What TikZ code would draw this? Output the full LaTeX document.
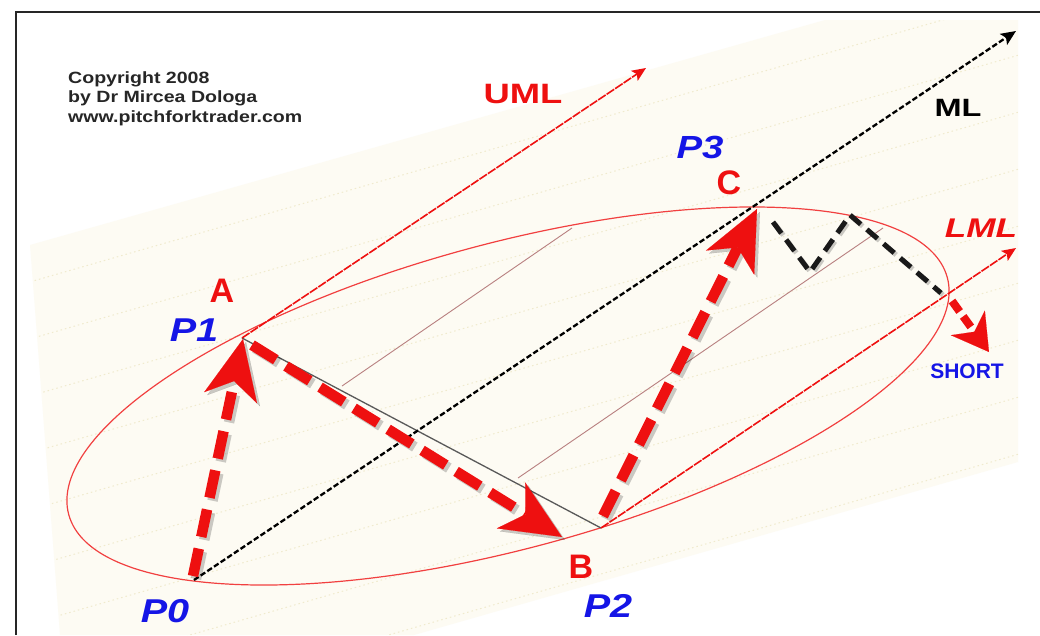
\documentclass[tikz,border=0pt]{standalone}
\usepackage{fontspec}
\setmainfont{Liberation Sans}
\newfontfamily\wideA[FakeStretch=1.3]{Liberation Sans}
\newfontfamily\wideB[FakeStretch=1.2]{Liberation Sans}
\usetikzlibrary{arrows.meta}
\definecolor{cream}{HTML}{FDFBF3}
\definecolor{stripe}{HTML}{F0EACD}
\definecolor{pfred}{HTML}{EE1010}
\definecolor{pfblue}{HTML}{1515E6}
\definecolor{qline}{HTML}{B88080}
\tikzset{
  lbl/.style={inner sep=0pt, anchor=center},
  redarrow/.style={pfred, line width=10.5, dash pattern=on 28 off 12,
    -{Stealth[length=60pt, width=54pt, inset=17pt, line width=0.1pt]}},
  redshadow/.style={black, opacity=.2, line width=10.5, dash pattern=on 28 off 12,
    -{Stealth[length=60pt, width=54pt, inset=17pt, line width=0.1pt]}},
  smallred/.style={pfred, line width=8, dash pattern=on 13 off 6,
    -{Stealth[length=36pt, width=42pt, inset=11pt, line width=0.1pt]}},
  route/.style={black!90, line width=5, dash pattern=on 14 off 8},
  fork/.style={pfred, line width=1.6, dash pattern=on 9 off 1.2,
    -{Stealth[length=14pt, width=12pt, inset=3pt]}},
  median/.style={black, line width=2.3, dash pattern=on 5.5 off 2.5,
    -{Stealth[length=15pt, width=13pt, inset=3pt]}},
}
\begin{document}
\begin{tikzpicture}[x=1pt, y=-1pt]
\useasboundingbox (0,0) rectangle (1040,635);
\fill[white] (0,0) rectangle (1040,635);
% background band
\fill[cream] (30,245) -- (825,20) -- (1018,20) -- (1018,462) -- (414,635) -- (60,635) -- cycle;
\begin{scope}
  \clip (30,245) -- (825,20) -- (1018,20) -- (1018,462) -- (414,635) -- (60,635) -- cycle;
  \foreach \k in {-4,...,6}
    \draw[stripe, line width=1, dash pattern=on 1.5 off 3] (0,461.5+57*\k) -- (1040,163+57*\k);
\end{scope}
% frame
\draw[black!85, line width=2] (16,635) -- (16,12) -- (1040,12);
% points
\coordinate (P0) at (194,580);
\coordinate (P1) at (242,338);
\coordinate (P2) at (601,528);
\coordinate (Ct) at (757,209);
\coordinate (a1s) at (193,576);
\coordinate (a1e) at (243,339);
\coordinate (a2s) at (252,345);
\coordinate (a2e) at (562,537);
\coordinate (a3s) at (603,516);
\coordinate (a4s) at (952,301);
\coordinate (a4e) at (989,352);
\coordinate (r1) at (773,222);
\coordinate (r2) at (810,272);
\coordinate (r3) at (850,215);
\coordinate (r4) at (941,293);
\coordinate (mlend) at (1016,31);
\coordinate (umlend) at (646,68);
\coordinate (lmlend) at (1016,248);
\coordinate (q1s) at (342,386);
\coordinate (q1e) at (572,228);
\coordinate (q2s) at (518,478);
\coordinate (q2e) at (883,228);
% ellipse
\draw[pfred!80, line width=1.2, rotate around={15.1:(508,396)}] (508,396) ellipse [x radius=455, y radius=152.5];
% warning lines and P1-P2
\draw[qline, line width=0.9] (q1s) -- (q1e);
\draw[qline, line width=0.9] (q2s) -- (q2e);
\draw[black!65, line width=1.3] (P1) -- (P2);
% pitchfork
\draw[median] (P0) -- (mlend);
\draw[fork] (P1) -- (umlend);
\draw[fork] (P2) -- (lmlend);
% shadows
\draw[redshadow] ([shift={(3,3)}]a1s) -- ([shift={(3,3)}]a1e);
\draw[redshadow] ([shift={(3,3)}]a2s) -- ([shift={(3,3)}]a2e);
\draw[redshadow] ([shift={(3,3)}]a3s) -- ([shift={(3,3)}]Ct);
\draw[black, opacity=.2, line width=5, dash pattern=on 14 off 8] ([shift={(2,2)}]r1) -- ([shift={(2,2)}]r2) -- ([shift={(2,2)}]r3) -- ([shift={(2,2)}]r4);
% red swing arrows
\draw[redarrow] (a1s) -- (a1e);
\draw[redarrow] (a2s) -- (a2e);
\draw[redarrow] (a3s) -- (Ct);
\draw[smallred] (a4s) -- (a4e);
% black route
\draw[route] (r1) -- (r2) -- (r3) -- (r4);
% labels
\node[lbl, anchor=base west, text=black!85, font=\wideB\bfseries\fontsize{16.3}{18}\selectfont] (cp1) at (68,83) {Copyright 2008};
\node[lbl, anchor=base west, text=black!85, font=\wideB\bfseries\fontsize{16.3}{18}\selectfont] (cp2) at (68,102.5) {by Dr Mircea Dologa};
\node[lbl, anchor=base west, text=black!85, font=\wideB\bfseries\fontsize{16.3}{18}\selectfont] (cp3) at (68,122) {www.pitchforktrader.com};
\node[lbl, text=pfred, font=\wideA\bfseries\fontsize{28}{28}\selectfont] (uml) at (523,94) {UML};
\node[lbl, text=black, font=\wideA\bfseries\fontsize{25}{25}\selectfont] (ml) at (958,108) {ML};
\node[lbl, text=pfred, font=\wideA\bfseries\itshape\fontsize{27}{27}\selectfont] (lml) at (981,228) {LML};
\node[lbl, text=pfblue, font=\bfseries\fontsize{21}{21}\selectfont] (short) at (967,371) {SHORT};
\node[lbl, text=pfred, font=\bfseries\fontsize{34}{34}\selectfont] (lA) at (222,291) {A};
\node[lbl, text=pfred, font=\bfseries\fontsize{34}{34}\selectfont] (lB) at (581,567) {B};
\node[lbl, text=pfred, font=\bfseries\fontsize{34}{34}\selectfont] (lC) at (729,183) {C};
\node[lbl, text=pfblue, font=\wideB\bfseries\itshape\fontsize{33}{33}\selectfont] (lP0) at (165,611) {P0};
\node[lbl, text=pfblue, font=\wideB\bfseries\itshape\fontsize{33}{33}\selectfont] (lP1) at (194,330) {P1};
\node[lbl, text=pfblue, font=\wideB\bfseries\itshape\fontsize{33}{33}\selectfont] (lP2) at (608,606) {P2};
\node[lbl, text=pfblue, font=\wideB\bfseries\itshape\fontsize{32}{32}\selectfont] (lP3) at (700,147) {P3};
\end{tikzpicture}
\end{document}
